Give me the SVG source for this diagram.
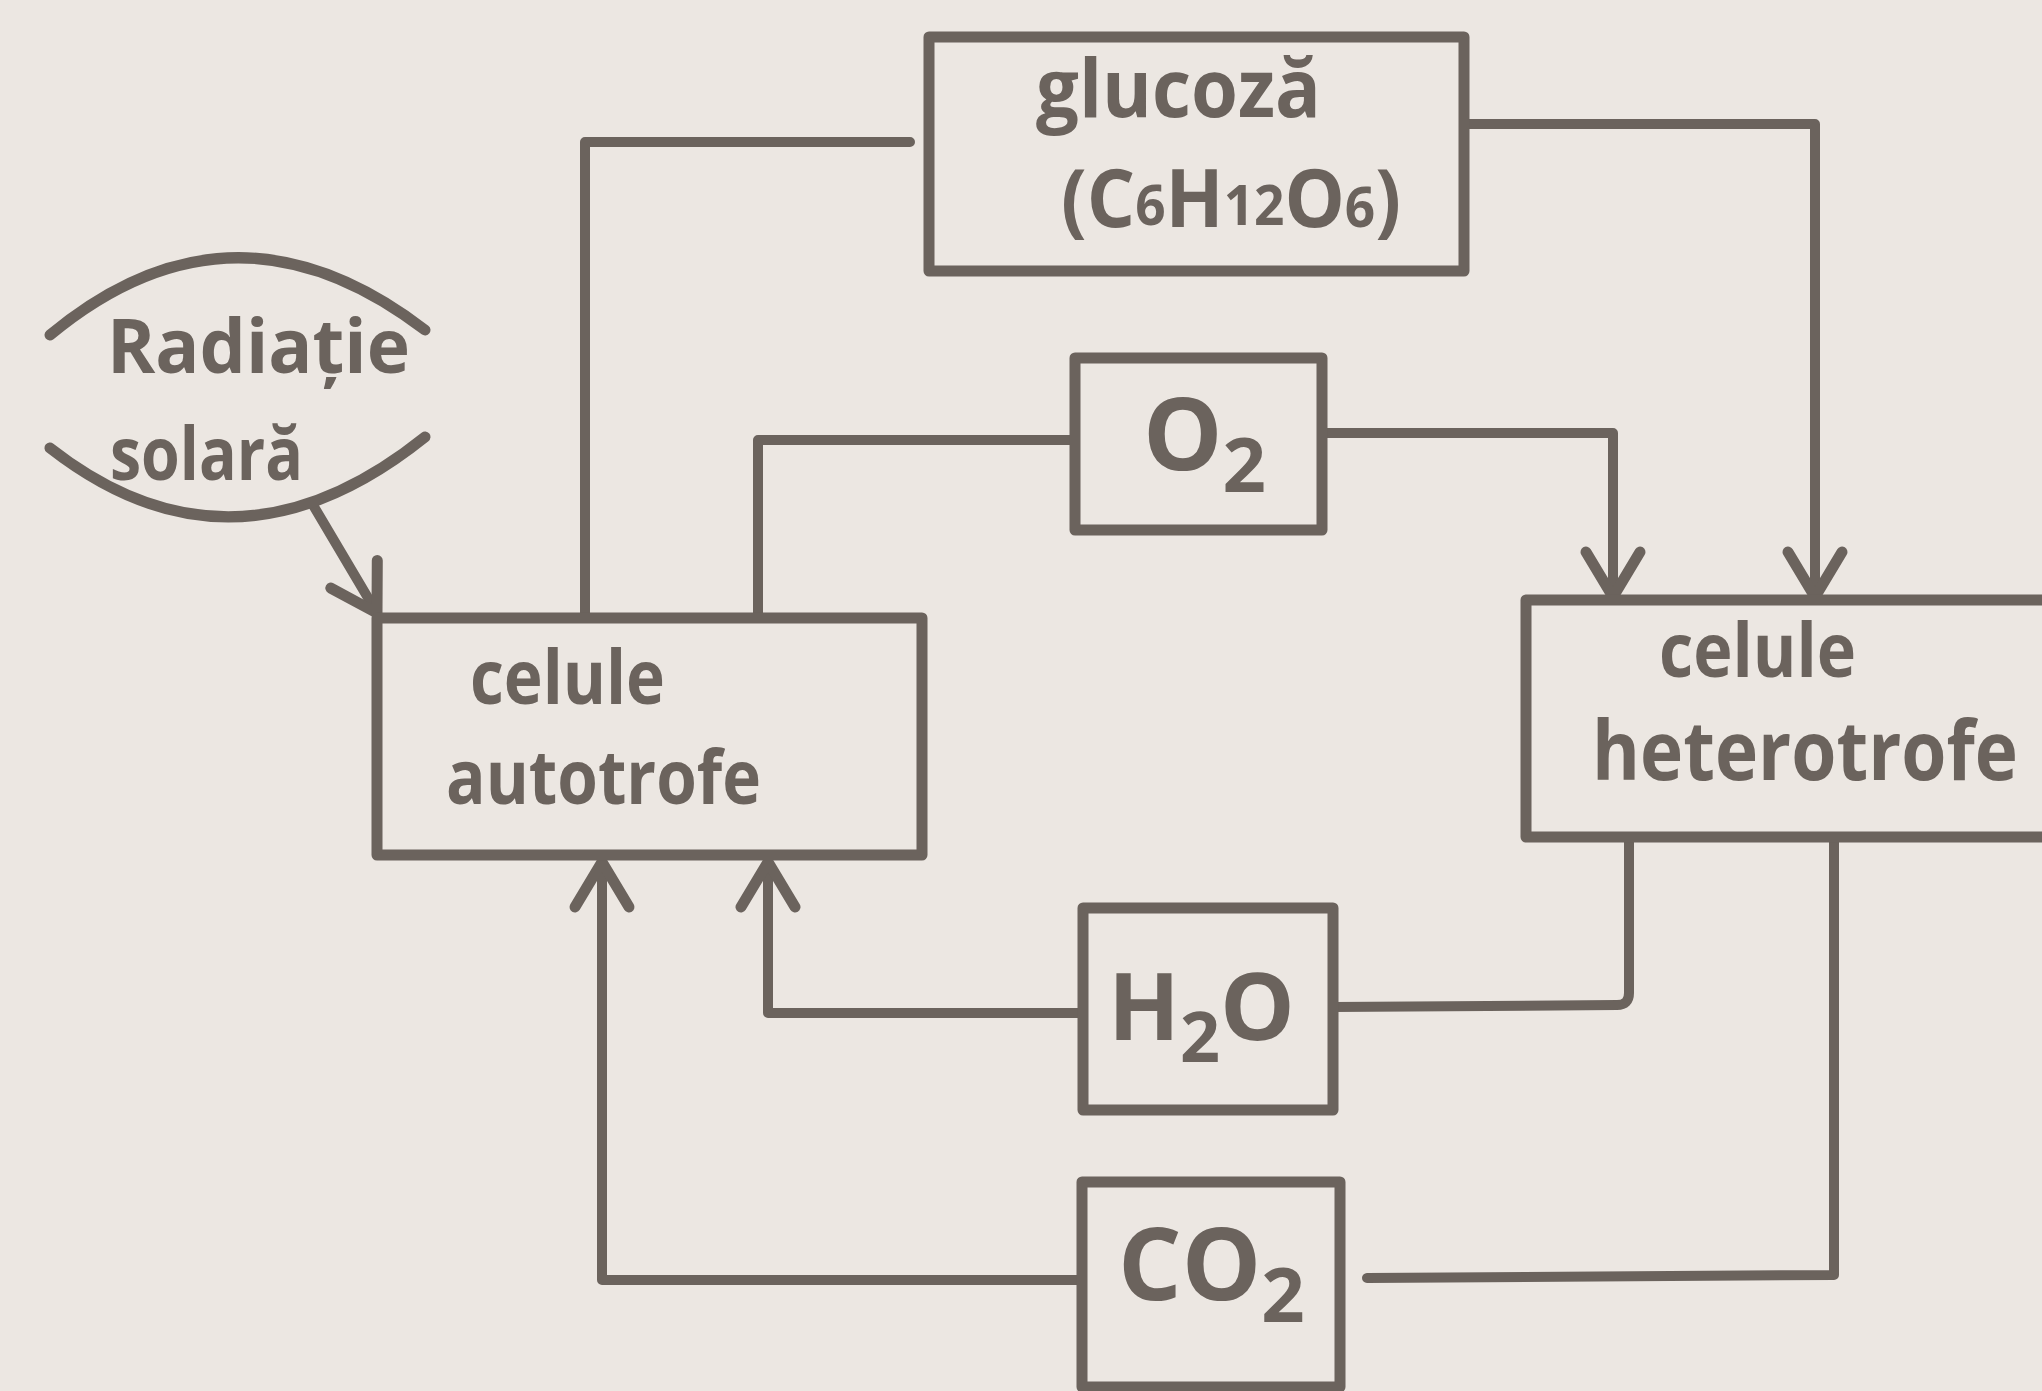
<svg xmlns="http://www.w3.org/2000/svg" width="2042" height="1391" viewBox="0 0 2042 1391">
<defs>
<style>
.bg{fill:#ece7e2}
.box{fill:none;stroke:#6b635d;stroke-width:11;stroke-linejoin:round;stroke-linecap:round}
.ln{fill:none;stroke:#6b635d;stroke-width:10;stroke-linejoin:round;stroke-linecap:round}
.t{fill:#6b635d;font-family:"Open Sans","Liberation Sans",sans-serif;font-weight:700}
</style>
<marker id="arr" viewBox="-55 -35 65 70" refX="0" refY="0" markerWidth="65" markerHeight="70" markerUnits="userSpaceOnUse" orient="auto">
<path d="M-45,-27 L0,0 L-45,27" fill="none" stroke="#6b635d" stroke-width="11" stroke-linecap="round" stroke-linejoin="round"/>
</marker>
</defs>
<rect class="bg" x="0" y="0" width="2042" height="1391"/>

<g id="connectors">
<path class="ln" d="M910,142 L585,142 L585,617"/>
<path class="ln" d="M1465,124 L1815,124 L1815,597" marker-end="url(#arr)"/>
<path class="ln" d="M1075,440 L758,440 L758,617"/>
<path class="ln" d="M1322,433 L1613,433 L1613,597" marker-end="url(#arr)"/>
<path class="ln" d="M1629,840 L1629,993 Q1629,1005 1617,1005 L1333,1007"/>
<path class="ln" d="M1083,1013 L768,1013 L768,862" marker-end="url(#arr)"/>
<path class="ln" d="M1834,840 L1834,1275 L1367,1278"/>
<path class="ln" d="M1082,1280 L602,1280 L602,862" marker-end="url(#arr)"/>
<path class="ln" d="M313,505 L377,613" marker-end="url(#arr)"/>
</g>

<g id="radiatie">
<path class="box" d="M50,335 Q233,183 425,330"/>
<path class="box" d="M50,448 Q233,591 425,437"/>
<text class="t" x="107" y="373" font-size="76" textLength="303" lengthAdjust="spacingAndGlyphs">Radiație</text>
<text class="t" x="110" y="480" font-size="74" textLength="193" lengthAdjust="spacingAndGlyphs">solară</text>
</g>

<g id="glucoza">
<rect class="box" x="929" y="37" width="535" height="234"/>
<text class="t" x="1036" y="117" font-size="80" textLength="285" lengthAdjust="spacingAndGlyphs">glucoză</text>
<text class="t" x="1061" y="227" font-size="80" textLength="340" lengthAdjust="spacingAndGlyphs">(C<tspan font-size="56" dy="-2">6</tspan><tspan dy="2">H</tspan><tspan font-size="56" dy="-2">12</tspan><tspan dy="2">O</tspan><tspan font-size="56" dy="0">6</tspan>)</text>
</g>

<g id="o2">
<rect class="box" x="1075" y="358" width="247" height="172"/>
<text class="t" x="1143" y="470" font-size="100">O<tspan font-size="76" dy="22">2</tspan></text>
</g>

<g id="autotrofe">
<rect class="box" x="377" y="618" width="545" height="237"/>
<text class="t" x="470" y="704" font-size="76" textLength="195" lengthAdjust="spacingAndGlyphs">celule</text>
<text class="t" x="446" y="804" font-size="76" textLength="315" lengthAdjust="spacingAndGlyphs">autotrofe</text>
</g>

<g id="heterotrofe">
<rect class="box" x="1526" y="600" width="540" height="237"/>
<text class="t" x="1659" y="677" font-size="76" textLength="197" lengthAdjust="spacingAndGlyphs">celule</text>
<text class="t" x="1592" y="780" font-size="82" textLength="426" lengthAdjust="spacingAndGlyphs">heterotrofe</text>
</g>

<g id="h2o">
<rect class="box" x="1083" y="908" width="250" height="202"/>
<text class="t" x="1108" y="1040" font-size="94">H<tspan font-size="70" dy="22">2</tspan><tspan dy="-22">O</tspan></text>
</g>

<g id="co2">
<rect class="box" x="1082" y="1182" width="258" height="205"/>
<text class="t" x="1118" y="1300" font-size="100">CO<tspan font-size="76" dy="22">2</tspan></text>
</g>
</svg>
